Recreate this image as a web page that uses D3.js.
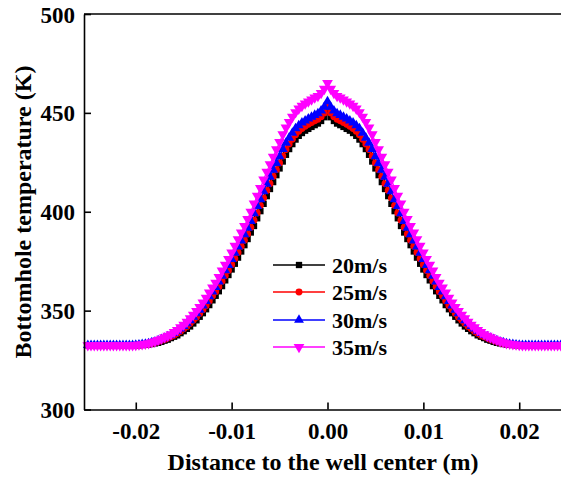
<!DOCTYPE html>
<html><head><meta charset="utf-8">
<script src="https://cdn.jsdelivr.net/npm/d3@7"></script>
<style>body{margin:0;background:#fff}svg{display:block}text{font-family:"Liberation Serif","Times New Roman",serif;font-weight:bold}</style>
</head><body><svg id="c" width="561" height="483"></svg>
<script>
const xValues = [-0.025,-0.024667,-0.024333,-0.024,-0.023667,-0.023333,-0.023,-0.022667,-0.022333,-0.022,-0.021667,-0.021333,-0.021,-0.020667,-0.020333,-0.02,-0.019667,-0.019333,-0.019,-0.018667,-0.018333,-0.018,-0.017667,-0.017333,-0.017,-0.016667,-0.016333,-0.016,-0.015667,-0.015333,-0.015,-0.014667,-0.014333,-0.014,-0.013667,-0.013333,-0.013,-0.012667,-0.012333,-0.012,-0.011667,-0.011333,-0.011,-0.010667,-0.010333,-0.01,-0.009667,-0.009333,-0.009,-0.008667,-0.008333,-0.008,-0.007667,-0.007333,-0.007,-0.006667,-0.006333,-0.006,-0.005667,-0.005333,-0.005,-0.004667,-0.004333,-0.004,-0.003667,-0.003333,-0.003,-0.002667,-0.002333,-0.002,-0.001667,-0.001333,-0.001,-0.000667,-0.000333,
0,
0.000333,0.000667,0.001,0.001333,0.001667,0.002,0.002333,0.002667,0.003,0.003333,0.003667,0.004,0.004333,0.004667,0.005,0.005333,0.005667,0.006,0.006333,0.006667,0.007,0.007333,0.007667,0.008,0.008333,0.008667,0.009,0.009333,0.009667,0.01,0.010333,0.010667,0.011,0.011333,0.011667,0.012,0.012333,0.012667,0.013,0.013333,0.013667,0.014,0.014333,0.014667,0.015,0.015333,0.015667,0.016,0.016333,0.016667,0.017,0.017333,0.017667,0.018,0.018333,0.018667,0.019,0.019333,0.019667,0.02,0.020333,0.020667,0.021,0.021333,0.021667,0.022,0.022333,0.022667,0.023,0.023333,0.023667,0.024,0.024333,0.024667,0.025];

const t20 = [332.5,332.5,332.5,332.5,332.5,332.5,332.5,332.5,332.5,332.5,332.5,332.5,332.5,332.5,332.5,332.5,332.5,
332.6,332.7,332.9,333.1,333.4,333.7,334.2,334.8,335.3,336.1,336.8,337.5,338.6,339.6,340.8,342.0,343.5,345.1,346.9,348.7,350.7,352.8,355.2,357.5,359.8,362.4,365.3,368.0,370.8,373.7,376.8,379.9,383.1,386.2,389.5,392.8,396.7,400.3,404.0,407.9,411.5,415.0,418.5,421.9,425.4,428.8,431.7,434.2,436.5,438.4,439.8,441.0,441.9,442.9,443.8,444.6,445.9,447.8,
450.5,
447.8,445.9,444.6,443.8,442.9,441.9,441.0,439.8,438.4,436.5,434.2,431.7,428.8,425.4,421.9,418.5,415.0,411.5,407.9,404.0,400.3,396.7,392.8,389.5,386.2,383.1,379.9,376.8,373.7,370.8,368.0,365.3,362.4,359.8,357.5,355.2,352.8,350.7,348.7,346.9,345.1,343.5,342.0,340.8,339.6,338.6,337.5,336.8,336.1,335.3,334.8,334.2,333.7,333.4,333.1,332.9,332.7,332.6,
332.5,332.5,332.5,332.5,332.5,332.5,332.5,332.5,332.5,332.5,332.5,332.5,332.5,332.5,332.5,332.5,332.5];

const t25 = [332.5,332.5,332.5,332.5,332.5,332.5,332.5,332.5,332.5,332.5,332.5,332.5,332.5,332.5,332.5,332.5,
332.6,332.8,333.0,333.1,333.4,333.9,334.2,334.9,335.4,336.1,336.8,337.5,338.6,339.6,340.8,342.0,343.5,345.1,346.7,348.6,350.5,352.5,354.9,357.4,359.5,362.1,364.8,367.6,370.3,373.2,376.2,379.4,382.5,385.6,388.7,392.1,395.7,399.4,403.1,406.9,410.7,414.2,417.8,421.2,424.7,428.2,431.5,434.2,436.7,438.9,440.7,442.1,443.2,444.2,445.1,446.0,446.8,448.1,450.0,
452.8,
450.0,448.1,446.8,446.0,445.1,444.2,443.2,442.1,440.7,438.9,436.7,434.2,431.5,428.2,424.7,421.2,417.8,414.2,410.7,406.9,403.1,399.4,395.7,392.1,388.7,385.6,382.5,379.4,376.2,373.2,370.3,367.6,364.8,362.1,359.5,357.4,354.9,352.5,350.5,348.6,346.7,345.1,343.5,342.0,340.8,339.6,338.6,337.5,336.8,336.1,335.4,334.9,334.2,333.9,333.4,333.1,333.0,332.8,332.6,
332.5,332.5,332.5,332.5,332.5,332.5,332.5,332.5,332.5,332.5,332.5,332.5,332.5,332.5,332.5,332.5];

const t30 = [332.5,332.5,332.5,332.5,332.5,332.5,332.5,332.5,332.5,332.5,332.5,332.5,332.5,332.5,332.5,
332.6,332.8,333.0,333.2,333.4,333.9,334.3,334.9,335.5,336.2,336.9,337.6,338.6,339.7,340.9,342.1,343.5,345.1,346.8,348.6,350.4,352.5,354.8,357.2,359.6,361.9,364.6,367.6,370.3,373.0,376.0,379.2,382.3,385.4,388.6,391.8,395.3,399.1,402.8,406.3,410.3,414.1,417.6,421.1,424.6,428.0,431.6,434.8,437.4,439.9,442.1,443.7,445.0,446.1,447.1,448.0,448.9,449.7,451.1,453.0,
455.8,
453.0,451.1,449.7,448.9,448.0,447.1,446.1,445.0,443.7,442.1,439.9,437.4,434.8,431.6,428.0,424.6,421.1,417.6,414.1,410.3,406.3,402.8,399.1,395.3,391.8,388.6,385.4,382.3,379.2,376.0,373.0,370.3,367.6,364.6,361.9,359.6,357.2,354.8,352.5,350.4,348.6,346.8,345.1,343.5,342.1,340.9,339.7,338.6,337.6,336.9,336.2,335.5,334.9,334.3,333.9,333.4,333.2,333.0,332.8,332.6,
332.5,332.5,332.5,332.5,332.5,332.5,332.5,332.5,332.5,332.5,332.5,332.5,332.5,332.5,332.5];

const t35 = [332.5,332.5,332.5,332.5,332.5,332.5,332.5,332.5,332.5,332.5,332.5,332.5,332.5,332.5,332.5,
332.6,332.8,333.0,333.2,333.5,334.0,334.4,335.1,335.7,336.5,337.2,338.0,339.1,340.2,341.5,342.8,344.3,346.1,347.9,349.8,351.8,354.0,356.5,359.1,361.6,364.1,367.0,370.2,373.1,376.1,379.3,382.7,386.1,389.4,392.8,396.3,400.0,404.1,408.1,411.9,416.2,420.2,424.0,427.8,431.5,435.2,439.1,442.5,445.3,448.0,450.3,452.1,453.5,454.7,455.7,456.7,457.7,458.5,460.0,462.1,
465.1,
462.1,460.0,458.5,457.7,456.7,455.7,454.7,453.5,452.1,450.3,448.0,445.3,442.5,439.1,435.2,431.5,427.8,424.0,420.2,416.2,411.9,408.1,404.1,400.0,396.3,392.8,389.4,386.1,382.7,379.3,376.1,373.1,370.2,367.0,364.1,361.6,359.1,356.5,354.0,351.8,349.8,347.9,346.1,344.3,342.8,341.5,340.2,339.1,338.0,337.2,336.5,335.7,335.1,334.4,334.0,333.5,333.2,333.0,332.8,332.6,
332.5,332.5,332.5,332.5,332.5,332.5,332.5,332.5,332.5,332.5,332.5,332.5,332.5,332.5,332.5];

const seriesNames = ["20m/s","25m/s","30m/s","35m/s"];
const seriesColors = ["#000000","#ff0000","#0000ff","#ff00ff"];
const xTicks = [-0.02,-0.01,0.00,0.01,0.02];
const yTicks = [300,350,400,450,500];

const series = [t20,t25,t30,t35];
const symTypes = [d3.symbolSquare, d3.symbolCircle, d3.symbolTriangle, d3.symbolTriangle];
const symSizes = [40, 38, 42, 50];
const symRot = [0,0,0,180];
const FONT = '"Liberation Serif","Times New Roman",serif';

const svg = d3.select("#c");
const L=84, T=14, B=409.5;
const x = d3.scaleLinear().domain([-0.0254,0.0254]).range([L, L+2*243.5]);
const y = d3.scaleLinear().domain([300,500]).range([B,T]);

const g = svg.append("g");
const line = d3.line().x((d,i)=>x(xValues[i])).y(d=>y(d));

series.forEach((s,si)=>{
  const sg = g.append("g");
  sg.append("path").datum(s).attr("d",line).attr("fill","none").attr("stroke",seriesColors[si]).attr("stroke-width",1.2);
  sg.selectAll("path.m").data(s).enter().append("path").attr("class","m")
    .attr("d", d3.symbol().type(symTypes[si]).size(symSizes[si]))
    .attr("transform",(d,i)=>`translate(${x(xValues[i])},${y(d)}) rotate(${symRot[si]})`)
    .attr("fill",seriesColors[si]);
});

// frame top
svg.append("line").attr("x1",L).attr("x2",x(0.0254)).attr("y1",T).attr("y2",T).attr("stroke","#000").attr("stroke-width",1.6);

const fmtX = d => d3.format(".2f")(d).replace("\u2212","-");
const xAxis = svg.append("g").attr("transform",`translate(0,${B})`)
  .call(d3.axisBottom(x).tickValues(xTicks).tickFormat(fmtX).tickSizeInner(-7).tickSizeOuter(0).tickPadding(13));
const yAxis = svg.append("g").attr("transform",`translate(${L},0)`)
  .call(d3.axisLeft(y).tickValues(yTicks).tickFormat(d3.format("d")).tickSizeInner(-7).tickSizeOuter(0).tickPadding(9));
[xAxis,yAxis].forEach(a=>{
  a.attr("font-family",FONT).attr("font-size",23);
  a.select(".domain").attr("stroke","#000").attr("stroke-width",1.6);
  a.selectAll(".tick line").attr("stroke","#000").attr("stroke-width",1.6);
  a.selectAll(".tick text").attr("fill","#000").style("font-size","23px").style("font-family",FONT).style("font-weight","bold");
});
xAxis.selectAll(".tick text").attr("dy","0.71em");
yAxis.selectAll(".tick text").attr("dy","0.35em");

svg.append("text").attr("x",323).attr("y",470).attr("text-anchor","middle").style("font-size","24px").style("font-family",FONT).text("Distance to the well center (m)");
svg.append("text").attr("transform","translate(31,212) rotate(-90)").attr("text-anchor","middle").style("font-size","24px").style("font-family",FONT).text("Bottomhole temperature (K)");

// legend
const legY = [265, 292, 320, 347];
const leg = svg.append("g");
seriesNames.forEach((n,i)=>{
  leg.append("line").attr("x1",273).attr("x2",325).attr("y1",legY[i]).attr("y2",legY[i]).attr("stroke",seriesColors[i]).attr("stroke-width",1.5);
  leg.append("path").attr("d",d3.symbol().type(symTypes[i]).size(symSizes[i])).attr("transform",`translate(299,${legY[i]}) rotate(${symRot[i]})`).attr("fill",seriesColors[i]);
  leg.append("text").attr("x",332).attr("y",legY[i]).attr("dy","0.35em").style("font-size","22px").style("font-family",FONT).text(n);
});
</script></body></html>
